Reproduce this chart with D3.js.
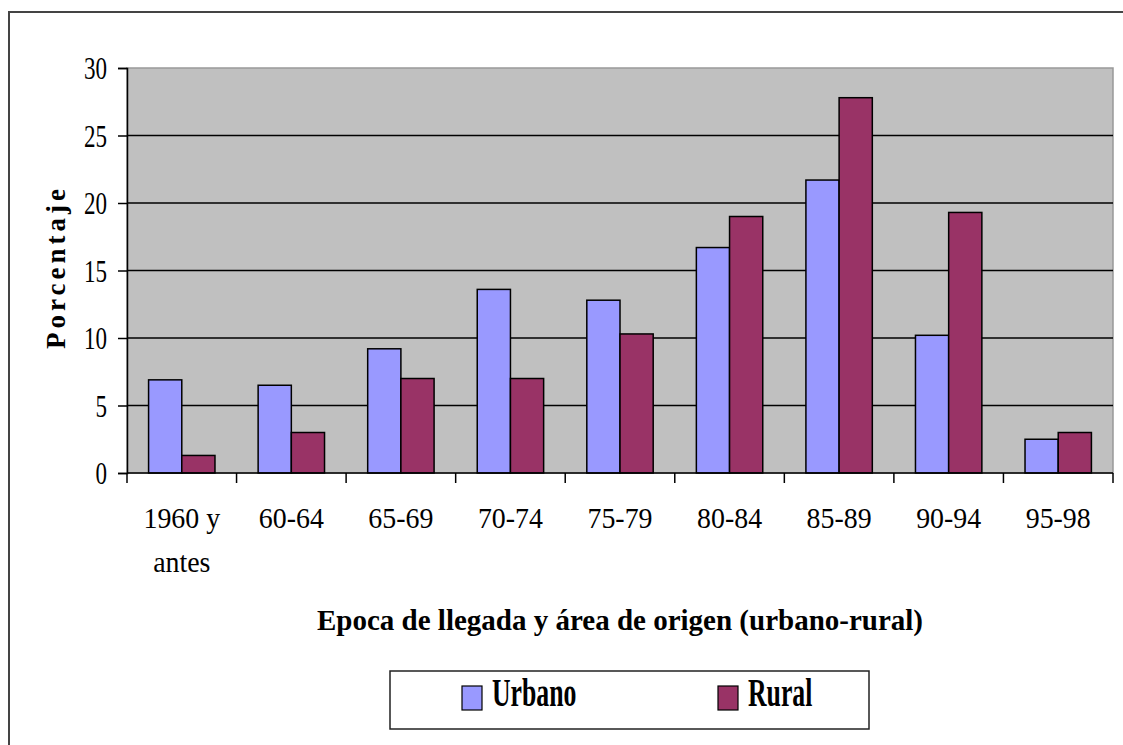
<!DOCTYPE html>
<html>
<head>
<meta charset="utf-8">
<script src="https://cdn.jsdelivr.net/npm/d3@7"></script>
<style>
  body { margin: 0; background: #fff; }
  svg text { font-family: "Liberation Serif", "Times New Roman", serif; fill: #000; }
</style>
</head>
<body>
<svg width="1123" height="745"></svg>
<script>
// data
var categories = ['1960 y antes', '60-64', '65-69', '70-74', '75-79', '80-84', '85-89', '90-94', '95-98'];
var catLines = [['1960 y', 'antes'], ['60-64'], ['65-69'], ['70-74'], ['75-79'], ['80-84'], ['85-89'], ['90-94'], ['95-98']];
var urbano = [6.9, 6.5, 9.2, 13.6, 12.8, 16.7, 21.7, 10.2, 2.5];
var rural = [1.3, 3.0, 7.0, 7.0, 10.3, 19.0, 27.8, 19.3, 3.0];
var seriesNames = ['Urbano', 'Rural'];
var yTicks = [0, 5, 10, 15, 20, 25, 30];

var svg = d3.select('svg'),
  width = +svg.attr('width'),
  height = +svg.attr('height');

var plot = { left: 127, right: 1113, top: 68, bottom: 473 };
var colors = ['#9999ff', '#993366'];

// outer frame (only top and left are inside the picture)
svg.append('rect')
  .attr('x', 9).attr('y', 12)
  .attr('width', width + 20).attr('height', height + 20)
  .attr('fill', 'none').attr('stroke', '#444').attr('stroke-width', 2);

var x = d3.scaleBand().domain(categories).range([plot.left, plot.right]).paddingInner(0).paddingOuter(0);
var x1 = d3.scaleBand().domain(seriesNames).range([0, x.bandwidth()]).paddingOuter(0.65).paddingInner(0);
var y = d3.scaleLinear().domain([0, 30]).range([plot.bottom, plot.top]);

// plot area
svg.append('rect')
  .attr('x', plot.left).attr('y', plot.top)
  .attr('width', plot.right - plot.left).attr('height', plot.bottom - plot.top)
  .attr('fill', '#c0c0c0').attr('stroke', '#999').attr('stroke-width', 1.5);

// gridlines
svg.append('g')
  .selectAll('line')
  .data(yTicks.filter(function (d) { return d > 0 && d < 30; }))
  .enter()
  .append('line')
  .attr('x1', plot.left).attr('x2', plot.right)
  .attr('y1', function (d) { return y(d); }).attr('y2', function (d) { return y(d); })
  .attr('stroke', '#000').attr('stroke-width', 1.5);

// bars
var rows = categories.map(function (c, i) {
  return { cat: c, vals: [urbano[i], rural[i]] };
});
var groups = svg.append('g')
  .selectAll('g')
  .data(rows)
  .enter()
  .append('g')
  .attr('transform', function (d) { return 'translate(' + x(d.cat) + ',0)'; });
groups.selectAll('rect')
  .data(function (d) { return d.vals.map(function (v, j) { return { s: seriesNames[j], v: v, j: j }; }); })
  .enter()
  .append('rect')
  .attr('x', function (d) { return x1(d.s); })
  .attr('width', x1.bandwidth())
  .attr('y', function (d) { return y(d.v); })
  .attr('height', function (d) { return y(0) - y(d.v); })
  .attr('fill', function (d) { return colors[d.j]; })
  .attr('stroke', '#000').attr('stroke-width', 1.5);

// y axis
var yAxis = svg.append('g')
  .attr('transform', 'translate(' + plot.left + ',0)')
  .call(d3.axisLeft(y).tickValues(yTicks).tickSize(9).tickPadding(11));
yAxis.select('.domain').attr('stroke', '#000').attr('stroke-width', 1.5);
yAxis.selectAll('.tick line').attr('stroke', '#000').attr('stroke-width', 1.5);
yAxis.selectAll('text')
  .attr('x', null)
  .attr('dy', '0.34em')
  .attr('transform', 'translate(-20,0) scale(0.72,1)')
  .attr('font-size', 32)
  .attr('font-family', '"Liberation Serif", serif');

// x axis
var xAxis = svg.append('g')
  .attr('transform', 'translate(0,' + plot.bottom + ')');
xAxis.append('line')
  .attr('x1', plot.left).attr('x2', plot.right)
  .attr('stroke', '#000').attr('stroke-width', 1.5);
xAxis.selectAll('.xtick')
  .data(categories.map(function (c) { return x(c); }).concat([plot.right]))
  .enter()
  .append('line')
  .attr('x1', function (d) { return d; }).attr('x2', function (d) { return d; })
  .attr('y1', 0).attr('y2', 10)
  .attr('stroke', '#000').attr('stroke-width', 1.5);
var xl = xAxis.selectAll('.xlabel')
  .data(categories)
  .enter()
  .append('text')
  .attr('text-anchor', 'middle')
  .attr('font-size', 30)
  .attr('transform', function (d) {
    return 'translate(' + (x(d) + x.bandwidth() / 2) + ',55) scale(0.93,1)';
  });
xl.each(function (d, i) {
  var t = d3.select(this);
  catLines[i].forEach(function (line, k) {
    t.append('tspan').attr('x', 0).attr('dy', k === 0 ? 0 : 44).text(line);
  });
});

// axis titles
svg.append('text')
  .attr('x', 620).attr('y', 630)
  .attr('text-anchor', 'middle')
  .attr('font-size', 29).attr('font-weight', 'bold')
  .text('Epoca de llegada y área de origen (urbano-rural)');

svg.append('text')
  .attr('transform', 'translate(65,267) rotate(-90)')
  .attr('text-anchor', 'middle')
  .attr('font-size', 27).attr('font-weight', 'bold')
  .attr('letter-spacing', 4)
  .text('Porcentaje');

// legend
var legend = svg.append('g');
legend.append('rect')
  .attr('x', 390).attr('y', 671).attr('width', 479).attr('height', 58)
  .attr('fill', '#fff').attr('stroke', '#222').attr('stroke-width', 1.5);
var legX = [462, 718];
var li = legend.selectAll('.item')
  .data(seriesNames)
  .enter()
  .append('g')
  .attr('transform', function (d, i) { return 'translate(' + legX[i] + ',686)'; });
li.append('rect')
  .attr('width', 20).attr('height', 24)
  .attr('fill', function (d, i) { return colors[i]; })
  .attr('stroke', '#000').attr('stroke-width', 1.2);
li.append('text')
  .attr('transform', 'translate(30,20) scale(0.66,1)')
  .attr('font-size', 39).attr('font-weight', 'bold')
  .text(function (d) { return d; });
</script>
</body>
</html>
